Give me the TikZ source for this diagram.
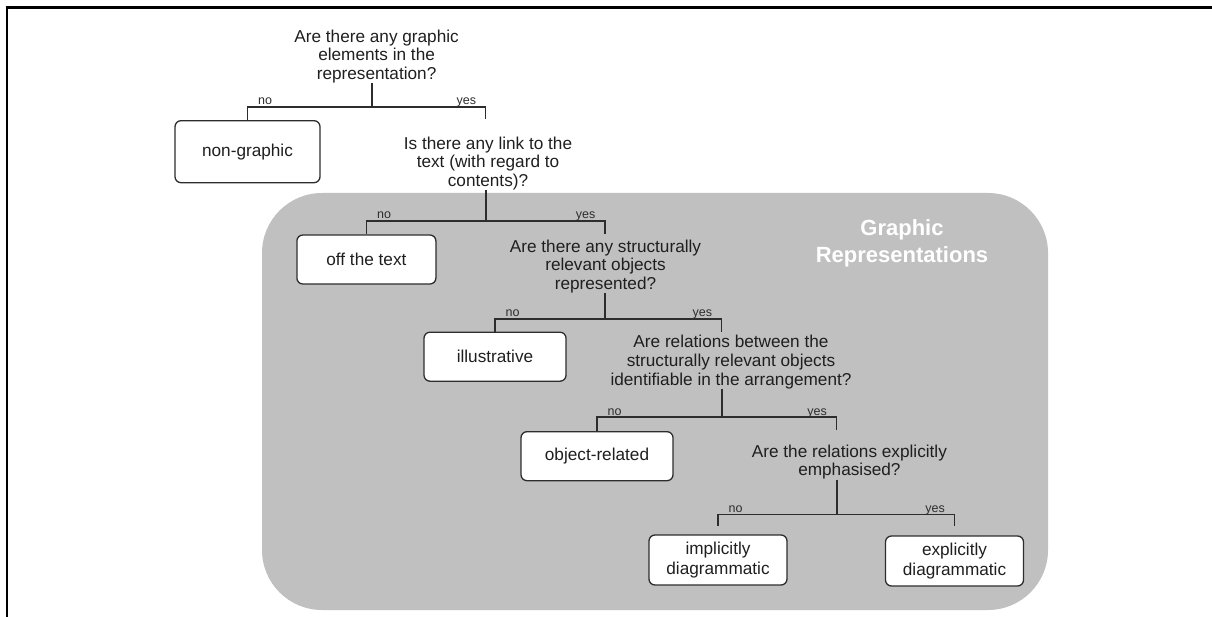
\documentclass[tikz,border=0pt]{standalone}
\usepackage{fontspec}
\setmainfont{Liberation Sans}
\definecolor{PanelGrey}{RGB}{192,192,192}
\definecolor{InkGrey}{RGB}{45,45,45}
\tikzset{
  question/.style={align=center,inner sep=0pt,text=black!88,font=\fontsize{17.2}{18.7}\selectfont},
  leaf/.style={draw=InkGrey,line width=1.3pt,rounded corners=6pt,fill=white,align=center,
    minimum height=49pt,inner sep=0pt,text=black!88,font=\fontsize{17.2}{19.8}\selectfont},
  stem/.style={draw=InkGrey,line width=2pt},
  branch/.style={draw=InkGrey,line width=1.3pt},
  answer/.style={inner sep=0pt,pos=.5,text=InkGrey,font=\fontsize{12.5}{14}\selectfont},
  nolab/.style={answer,anchor=base west,xshift=10pt,yshift=2pt},
  yeslab/.style={answer,anchor=base east,xshift=-9pt,yshift=2pt}
}
\begin{document}
\begin{tikzpicture}[x=1pt,y=-1pt]
  \useasboundingbox (0,0) rectangle (1212,617);
  % page rules
  \draw[line width=2.5pt] (5.7,7.7) -- (1212,7.7);
  \draw[line width=2pt] (6.7,6.5) -- (6.7,617);
  % grey panel
  \fill[PanelGrey,rounded corners=60pt] (262,193) rectangle (1048,610);
  \node[text=white,align=center,font=\fontsize{22}{27}\selectfont\bfseries] (panel) at (902,243)
    {Graphic\\Representations};
  % questions
  \node[question] (q1) at (376.6,56.5) {Are there any graphic\\elements in the\\representation?};
  \node[question] (q2) at (488,163.5) {Is there any link to the\\text (with regard to\\contents)?};
  \node[question] (q3) at (605.5,266.5) {Are there any structurally\\relevant objects\\represented?};
  \node[question] (q4) at (731,362) {Are relations between the\\structurally relevant objects\\identifiable in the arrangement?};
  \node[question] (q5) at (849.4,462) {Are the relations explicitly\\emphasised?};
  % outcomes
  \node[leaf,minimum width=145pt,minimum height=62pt] (nongraphic) at (247.5,151.7) {non-graphic};
  \node[leaf,minimum width=139pt] (offtext) at (366.4,259.5) {off the text};
  \node[leaf,minimum width=142pt] (illus) at (495,356.7) {illustrative};
  \node[leaf,minimum width=152pt] (objrel) at (597,456.2) {object-related};
  \node[leaf,minimum width=138pt,minimum height=50pt] (implicit) at (718,560) {implicitly\\diagrammatic};
  \node[leaf,minimum width=138pt,minimum height=50pt] (explicit) at (954.5,561) {explicitly\\diagrammatic};
  % forks
  \coordinate (f1) at (371.7,107);
  \coordinate (f2) at (485.7,221);
  \coordinate (f3) at (605,319);
  \coordinate (f4) at (721.7,417);
  \coordinate (f5) at (836.5,514.7);
  \foreach \q in {1,...,5}
    \draw[stem] (q\q.south -| f\q) -- (f\q);
  \draw[branch] (f1) -| node[nolab]{no} (nongraphic.north);
  \draw[branch,shorten >=17.5pt] (f1) -| node[yeslab]{yes} (q2.north -| f2);
  \draw[branch] (f2) -| node[nolab]{no} (offtext.north);
  \draw[branch,shorten >=5.7pt] (f2) -| node[yeslab]{yes} (q3.north -| f3);
  \draw[branch] (f3) -| node[nolab]{no} (illus.north);
  \draw[branch,shorten >=3.5pt] (f3) -| node[yeslab]{yes} (q4.north -| f4);
  \draw[branch] (f4) -| node[nolab]{no} (objrel.north);
  \draw[branch,shorten >=14.6pt] (f4) -| node[yeslab]{yes} (q5.north -| f5);
  \draw[branch,shorten >=8pt] (f5) -| node[nolab]{no} (implicit.north);
  \draw[branch,shorten >=9pt] (f5) -| node[yeslab]{yes} (explicit.north);
\end{tikzpicture}
\end{document}
